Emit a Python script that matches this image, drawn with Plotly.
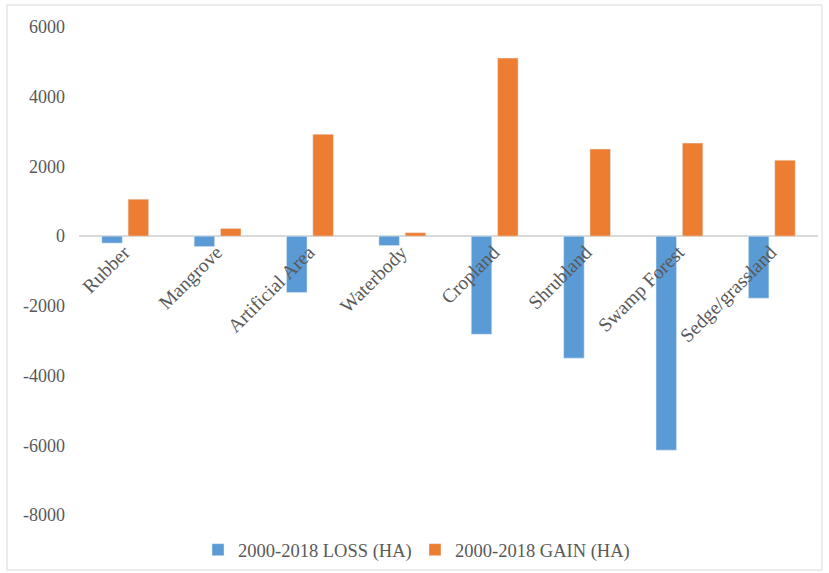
import plotly.graph_objects as go

categories = ["Rubber", "Mangrove", "Artificial Area", "Waterbody", "Cropland",
              "Shrubland", "Swamp Forest", "Sedge/grassland"]
loss = [-200, -300, -1620, -270, -2815, -3500, -6140, -1780]
gain = [1060, 220, 2925, 100, 5110, 2500, 2670, 2180]
y_ticks = [-8000, -6000, -4000, -2000, 0, 2000, 4000, 6000]

FONT = "Liberation Serif, Times New Roman, serif"
GREY = "#595959"
FS = 18

fig = go.Figure()
fig.add_trace(go.Bar(x=categories, y=loss, name="2000-2018 LOSS (HA)",
                     marker=dict(color="#5B9BD5")))
fig.add_trace(go.Bar(x=categories, y=gain, name="2000-2018 GAIN (HA)",
                     marker=dict(color="#ED7D31")))

y0frac = 8000 / 14000
fig.update_layout(
    width=829, height=573,
    margin=dict(l=79, r=11, t=27, b=58, autoexpand=False),
    paper_bgcolor="white", plot_bgcolor="white",
    barmode="group", bargap=0.43, bargroupgap=0.22,
    font=dict(family=FONT, size=FS, color=GREY),
    showlegend=True,
    legend=dict(orientation="h", x=(198 - 79) / 739, xanchor="left", y=-0.072, yanchor="middle",
                font=dict(family=FONT, size=18.5, color=GREY), itemwidth=30,
                entrywidth=172, traceorder="normal"),
    xaxis=dict(anchor="free", position=y0frac, showline=False, showgrid=False,
               automargin=False, tickangle=-45, ticks="", ticklabelstandoff=0,
               ticklabelshift=-1,
               tickfont=dict(family=FONT, size=19.5, color=GREY)),
    yaxis=dict(range=[-8000, 6000], tickvals=y_ticks, ticktext=[str(v) for v in y_ticks],
               showgrid=False, zeroline=True, zerolinecolor="#D9D9D9", zerolinewidth=2,
               showline=False, ticks="", ticklabelstandoff=13, automargin=False,
               tickfont=dict(family=FONT, size=FS, color=GREY)),
    shapes=[dict(type="rect", xref="paper", yref="paper",
                 x0=(7 - 79) / 739, x1=(822 - 79) / 739,
                 y0=-(570 - 515) / 488, y1=1 + (27 - 5) / 488,
                 line=dict(color="#D9D9D9", width=1), fillcolor="rgba(0,0,0,0)",
                 layer="below")],
)

fig.write_html("out.html", config={"displayModeBar": False},
               post_script="document.body.style.margin='0';document.body.style.overflow='hidden';")
